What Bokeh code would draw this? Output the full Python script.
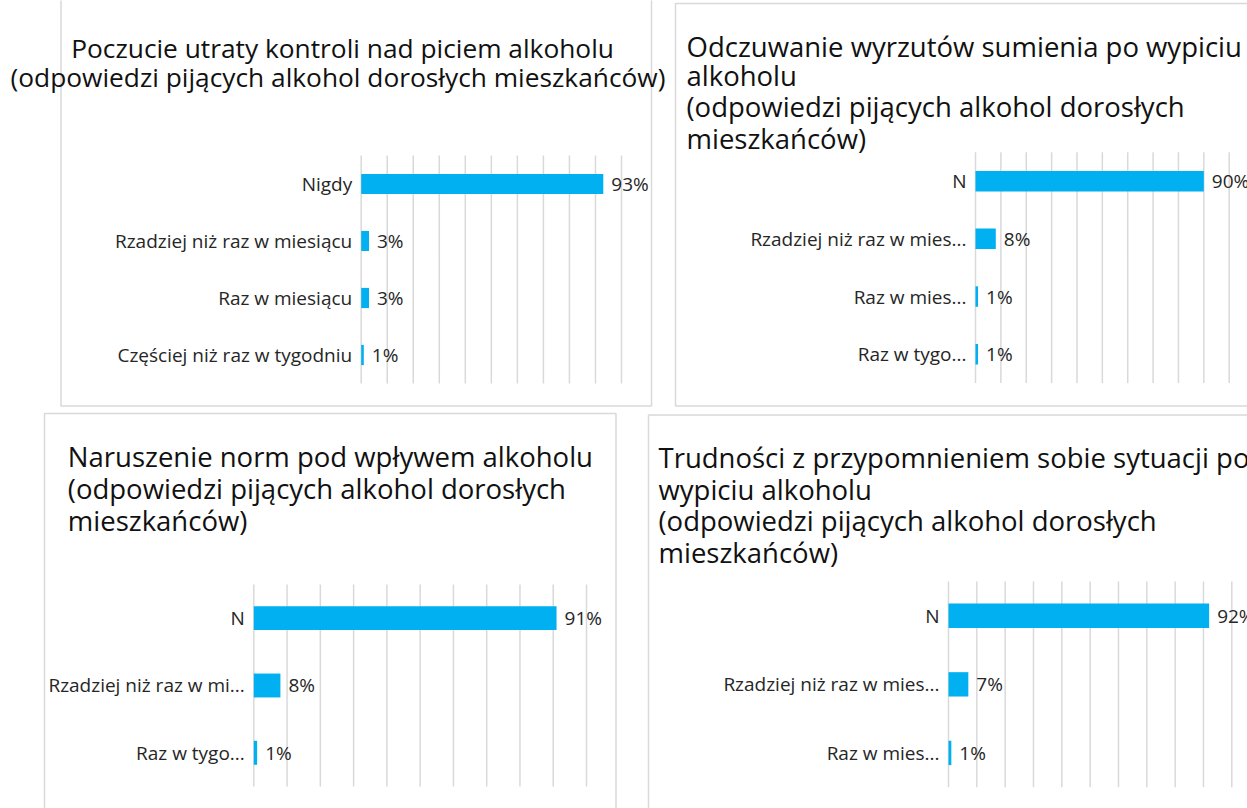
from bokeh.plotting import figure
from bokeh.models import Range1d
from bokeh.layouts import row, column
from bokeh.embed import file_html
from bokeh.resources import INLINE
from bokeh.core.properties import value

# ---------------- data ----------------
p1_categories = ["Nigdy", "Rzadziej niż raz w miesiącu", "Raz w miesiącu", "Częściej niż raz w tygodniu"]
p1_values = [93, 3, 3, 1]
p1_title = ["Poczucie utraty kontroli nad piciem alkoholu",
            "(odpowiedzi pijących alkohol dorosłych mieszkańców)"]

p2_categories = ["N", "Rzadziej niż raz w mies...", "Raz w mies...", "Raz w tygo..."]
p2_values = [90, 8, 1, 1]
p2_title = ["Odczuwanie wyrzutów sumienia po wypiciu",
            "alkoholu",
            "(odpowiedzi pijących alkohol  dorosłych",
            "mieszkańców)"]

p3_categories = ["N", "Rzadziej niż raz w mi...", "Raz w tygo..."]
p3_values = [91, 8, 1]
p3_title = ["Naruszenie norm pod wpływem alkoholu",
            "(odpowiedzi pijących alkohol dorosłych",
            "mieszkańców)"]

p4_categories = ["N", "Rzadziej niż raz w mies...", "Raz w mies..."]
p4_values = [92, 7, 1]
p4_title = ["Trudności z przypomnieniem sobie sytuacji po",
            "wypiciu alkoholu",
            "(odpowiedzi pijących alkohol dorosłych",
            "mieszkańców)"]

grid_ticks = [0, 10, 20, 30, 40, 50, 60, 70, 80, 90, 100]

# ---------------- style ----------------
FONT = "Open Sans"
BAR = "#00B0F0"
GRID = "#D9D9D9"
TXT = "#262626"
TITLE_TXT = "#111111"


def panel(cats, vals, title_lines, canvas, grid, box, title_pos, title_size=27.5,
          label_size=19, bar_h=0.355):
    cx, cy, W, H = canvas
    gx0, gx100, gy_top, band = grid
    ppx = (gx100 - gx0) / 100.0
    c0 = gy_top + band / 2.0
    p = figure(width=W, height=H, output_backend="svg", toolbar_location=None,
               x_axis_location=None, y_axis_location=None, min_border=0,
               x_range=Range1d((cx - gx0) / ppx, (cx + W - gx0) / ppx),
               y_range=Range1d((cy + H - c0) / band, (cy - c0) / band))
    p.extra_x_ranges = {"px": Range1d(cx, cx + W)}
    p.extra_y_ranges = {"px": Range1d(cy + H, cy)}
    p.grid.visible = False
    p.outline_line_color = None
    p.background_fill_color = "white"
    p.border_fill_color = "white"

    # panel box
    bl, br, bt, bb = box
    p.quad(left=[bl], right=[br], top=[bt], bottom=[bb], fill_color=None,
           line_color=GRID, line_width=1.5, x_range_name="px", y_range_name="px")

    n = len(cats)
    idx = list(range(n))
    # vertical gridlines
    p.segment(x0=grid_ticks, x1=grid_ticks, y0=[-0.5] * len(grid_ticks),
              y1=[n - 0.5] * len(grid_ticks), line_color=GRID, line_width=1.5)
    # bars
    p.hbar(y=idx, left=[0] * n, right=vals, height=bar_h, fill_color=BAR, line_color=None)
    # category labels
    p.text(x=[0] * n, y=idx, text=cats, x_offset=-9, text_align="right",
           text_baseline="middle", text_font=value(FONT),
           text_font_size=f"{label_size}px", text_color=TXT)
    # value labels
    p.text(x=vals, y=idx, text=[f"{v}%" for v in vals], x_offset=8, text_align="left",
           text_baseline="middle", text_font=value(FONT),
           text_font_size=f"{label_size}px", text_color=TXT)
    # title lines
    xs, ys = title_pos
    p.text(x=xs, y=ys, text=title_lines, text_align="left", text_baseline="alphabetic",
           text_font=value(FONT), text_font_size=f"{title_size}px", text_color=TITLE_TXT,
           x_range_name="px", y_range_name="px")
    return p


p1 = panel(p1_categories, p1_values, p1_title,
           canvas=(0, 0, 673, 410), grid=(360.7, 621.0, 155.0, 57.0),
           box=(60.5, 651.0, -20, 405.5),
           title_pos=([70.7, 10.0], [47.0, 76.0]), title_size=26.3)
p2 = panel(p2_categories, p2_values, p2_title,
           canvas=(673, 0, 574, 410), grid=(975.0, 1228.7, 151.8, 57.7),
           box=(675.0, 1400, 3.0, 405.5),
           title_pos=([686.0] * 4, [45.5, 74.5, 105.5, 137.5]))
p3 = panel(p3_categories, p3_values, p3_title,
           canvas=(0, 410, 645, 398), grid=(253.3, 586.0, 584.0, 67.33),
           box=(44.0, 615.5, 413.0, 950),
           title_pos=([67.3] * 3, [456.0, 488.0, 519.5]))
p4 = panel(p4_categories, p4_values, p4_title,
           canvas=(645, 410, 602, 398), grid=(948.0, 1231.3, 581.0, 68.57),
           box=(648.0, 1400, 414.5, 950),
           title_pos=([658.0] * 4, [457.0, 488.5, 520.0, 551.5]))

layout = column(row(p1, p2, spacing=0), row(p3, p4, spacing=0), spacing=0)

open("out.html", "w").write(file_html(layout, INLINE))
